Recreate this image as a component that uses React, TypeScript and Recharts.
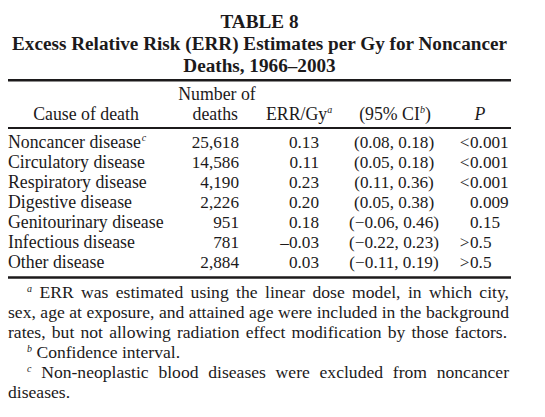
import { ScatterChart, Scatter, XAxis, YAxis, Customized } from 'recharts';

// table 8 values
const causes = [
  'Noncancer disease',
  'Circulatory disease',
  'Respiratory disease',
  'Digestive disease',
  'Genitourinary disease',
  'Infectious disease',
  'Other disease',
];
const causeNotes = ['c', '', '', '', '', '', ''];
const deaths = [25618, 14586, 4190, 2226, 951, 781, 2884];
const errPerGy = [0.13, 0.11, 0.23, 0.2, 0.18, -0.03, 0.03];
const ciLower = [0.08, 0.05, 0.11, 0.05, -0.06, -0.22, -0.11];
const ciUpper = [0.18, 0.18, 0.36, 0.38, 0.46, 0.23, 0.19];
const pValues = ['<0.001', '<0.001', '<0.001', '0.009', '0.15', '>0.5', '>0.5'];

const titleLines = [
  'TABLE 8',
  'Excess Relative Risk (ERR) Estimates per Gy for Noncancer',
  'Deaths, 1966\u20132003',
];

const FONT = '"Liberation Serif", "Times New Roman", serif';
const INK = '#1c1a1b';
const LABEL = 17.8;
const NUM = 17.2;

const rows = causes.map((cause, i) => ({
  cause,
  x: 0,
  note: causeNotes[i],
  deaths: deaths[i],
  err: errPerGy[i],
  lo: ciLower[i],
  hi: ciUpper[i],
  p: pValues[i],
}));

const fmtErr = (v: number) => (v < 0 ? '\u2013' + Math.abs(v).toFixed(2) : v.toFixed(2));
const fmtCi = (v: number) => (v < 0 ? '\u2212' + Math.abs(v).toFixed(2) : v.toFixed(2));

const Sup = ({ children, dx = 0 }: { children: string; dx?: number }) => (
  <tspan fontSize={10} fontStyle="italic" dy={-7} dx={dx}>
    {children}
  </tspan>
);

const RowShape = (props: any) => {
  const { cy, payload } = props;
  const sign = /^[<>]/.test(payload.p) ? payload.p[0] : '';
  const pNum = sign ? payload.p.slice(1) : payload.p;
  return (
    <g fontFamily={FONT} fontSize={NUM} fill={INK}>
      <text x={8} y={cy} fontSize={LABEL}>
        {payload.cause}
        {payload.note && <Sup dx={1}>{payload.note}</Sup>}
      </text>
      <text x={239} y={cy} textAnchor="end">
        {payload.deaths.toLocaleString('en-US')}
      </text>
      <text x={319} y={cy} textAnchor="end">
        {fmtErr(payload.err)}
      </text>
      <text x={394} y={cy} textAnchor="middle">
        ({fmtCi(payload.lo)}, {fmtCi(payload.hi)})
      </text>
      {sign && (
        <text x={469.5} y={cy} textAnchor="end">
          {sign}
        </text>
      )}
      <text x={470} y={cy}>
        {pNum}
      </text>
    </g>
  );
};

const Frame = () => (
  <g fontFamily={FONT} fill={INK}>
    <g fontWeight="bold" fontSize={19.2} textAnchor="middle">
      <text x={259.5} y={28}>{titleLines[0]}</text>
      <text x={259.5} y={50}>{titleLines[1]}</text>
      <text x={259.5} y={72}>{titleLines[2]}</text>
    </g>
    <line x1={8} x2={511} y1={80.3} y2={80.3} stroke={INK} strokeWidth={2.6} />
    <g fontSize={LABEL}>
      <text x={217} y={100} textAnchor="middle">Number of</text>
      <text x={86} y={120} textAnchor="middle">Cause of death</text>
      <text x={238} y={120} textAnchor="end">deaths</text>
      <text x={266} y={120}>
        ERR/Gy<Sup>a</Sup>
      </text>
      <text x={395} y={120} textAnchor="middle">
        (95% CI<Sup>b</Sup>
        <tspan dy={7}>)</tspan>
      </text>
      <text x={480} y={120} textAnchor="middle" fontStyle="italic">P</text>
    </g>
    <line x1={8} x2={511} y1={128} y2={128} stroke={INK} strokeWidth={2} />
    <line x1={8} x2={511} y1={277.5} y2={277.5} stroke={INK} strokeWidth={2.5} />
  </g>
);

const noteStyle = { fontSize: 10, fontStyle: 'italic' as const, verticalAlign: 6, lineHeight: 0 };
const just = { textAlign: 'justify' as const, textAlignLast: 'justify' as const, whiteSpace: 'nowrap' as const };

export default function App() {
  return (
    <div style={{ position: 'absolute', left: 0, top: 0, width: 545, height: 417, background: '#fff', overflow: 'hidden' }}>
      <ScatterChart width={545} height={417} margin={{ top: 138, right: 0, bottom: 139, left: 0 }}>
        <XAxis type="number" dataKey="x" domain={[0, 1]} hide />
        <YAxis type="category" dataKey="cause" reversed hide />
        <Customized component={Frame} />
        <Scatter data={rows} shape={RowShape} isAnimationActive={false} />
      </ScatterChart>
      <div
        style={{
          position: 'absolute',
          left: 8,
          top: 282,
          width: 501,
          fontFamily: FONT,
          fontSize: 17.6,
          lineHeight: '20px',
          color: INK,
        }}
      >
        <div style={{ ...just, paddingLeft: 19 }}>
          <span style={noteStyle}>a</span> ERR was estimated using the linear dose model, in which city,
        </div>
        <div style={just}>sex, age at exposure, and attained age were included in the background</div>
        <div style={{ whiteSpace: 'nowrap', wordSpacing: 1.8 }}>
          rates, but not allowing radiation effect modification by those factors.
        </div>
        <div style={{ paddingLeft: 19, whiteSpace: 'nowrap' }}>
          <span style={noteStyle}>b</span> Confidence interval.
        </div>
        <div style={{ ...just, paddingLeft: 19 }}>
          <span style={noteStyle}>c</span> Non-neoplastic blood diseases were excluded from noncancer
        </div>
        <div>diseases.</div>
      </div>
    </div>
  );
}
